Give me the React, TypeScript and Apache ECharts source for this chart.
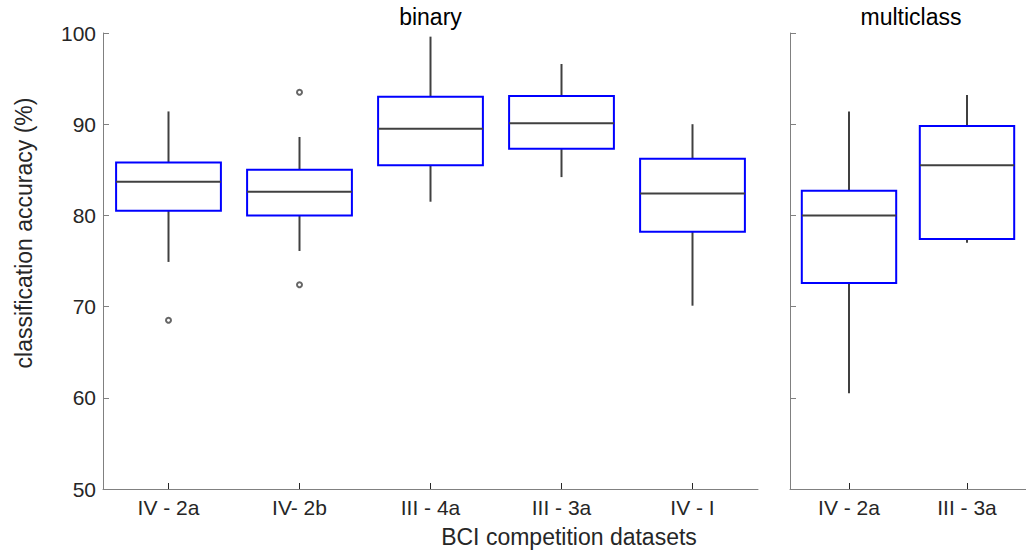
import React, { useEffect, useRef } from "react";
import * as echarts from "echarts";

// Binary datasets
const binaryCategories = ["IV - 2a", "IV- 2b", "III - 4a", "III - 3a", "IV - I"];
const binaryLow = [74.9, 76.1, 81.5, 84.2, 70.1];
const binaryQ1 = [80.5, 80.0, 85.5, 87.3, 78.2];
const binaryMedian = [83.7, 82.6, 89.5, 90.1, 82.4];
const binaryQ3 = [85.8, 85.0, 93.0, 93.1, 86.2];
const binaryHigh = [91.4, 88.6, 99.6, 96.6, 90.0];
const binaryOutliers: [number, number][] = [
  [0, 68.5],
  [1, 93.5],
  [1, 72.4],
];

// Multiclass datasets
const multiCategories = ["IV - 2a", "III - 3a"];
const multiLow = [60.5, 77.0];
const multiQ1 = [72.6, 77.4];
const multiMedian = [80.0, 85.5];
const multiQ3 = [82.7, 89.8];
const multiHigh = [91.4, 93.2];

const yTicks = { min: 50, max: 100, interval: 10 };

const FONT = "Liberation Sans, Arial, Helvetica, sans-serif";
const TEXT = "#262626";
const AXIS = "#808080";
const WHISKER = "#404040";
const BOX = "#0000ff";

function buildData(low: number[], q1: number[], med: number[], q3: number[], high: number[]) {
  return low.map((_, i) => [i, low[i], q1[i], med[i], q3[i], high[i]]);
}

function renderBox(params: any, api: any) {
  const x = api.value(0);
  const low = api.coord([x, api.value(1)]);
  const q1 = api.coord([x, api.value(2)]);
  const med = api.coord([x, api.value(3)]);
  const q3 = api.coord([x, api.value(4)]);
  const high = api.coord([x, api.value(5)]);
  const bw = api.size([1, 0])[0] * 0.8;
  const cx = q1[0];
  const lineStyle = { stroke: WHISKER, lineWidth: 2 };
  return {
    type: "group",
    children: [
      { type: "line", shape: { x1: cx, y1: high[1], x2: cx, y2: q3[1] }, style: lineStyle },
      { type: "line", shape: { x1: cx, y1: q1[1], x2: cx, y2: low[1] }, style: lineStyle },
      {
        type: "rect",
        shape: { x: cx - bw / 2, y: q3[1], width: bw, height: q1[1] - q3[1] },
        style: { fill: "none", stroke: BOX, lineWidth: 2 },
      },
      { type: "line", shape: { x1: cx - bw / 2, y1: med[1], x2: cx + bw / 2, y2: med[1] }, style: lineStyle },
    ],
  };
}

function xAxisCfg(gridIndex: number, data: string[]) {
  return {
    type: "category",
    gridIndex,
    data,
    boundaryGap: true,
    axisLine: { show: true, lineStyle: { color: AXIS, width: 1 } },
    axisTick: { show: true, inside: true, length: 6, alignWithLabel: true, lineStyle: { color: TEXT } },
    axisLabel: { color: TEXT, fontSize: 21, fontFamily: FONT, margin: 8 },
    splitLine: { show: false },
  };
}

function yAxisCfg(gridIndex: number, showLabels: boolean) {
  return {
    type: "value",
    gridIndex,
    min: yTicks.min,
    max: yTicks.max,
    interval: yTicks.interval,
    axisLine: { show: true, lineStyle: { color: AXIS, width: 1 } },
    axisTick: { show: true, inside: true, length: 6, lineStyle: { color: AXIS } },
    axisLabel: { show: showLabels, color: TEXT, fontSize: 21, fontFamily: FONT, margin: 7 },
    splitLine: { show: false },
  };
}

export default function App() {
  const ref = useRef<HTMLDivElement>(null);
  useEffect(() => {
    if (!ref.current) return;
    const chart = echarts.init(ref.current, null, { renderer: "svg" });
    chart.setOption({
      animation: false,
      backgroundColor: "#ffffff",
      textStyle: { fontFamily: FONT },
      grid: [
        { left: 103, right: 268, top: 33, bottom: 63 },
        { left: 790, right: -6, top: 33, bottom: 63 },
      ],
      xAxis: [xAxisCfg(0, binaryCategories), xAxisCfg(1, multiCategories)],
      yAxis: [yAxisCfg(0, true), yAxisCfg(1, false)],
      graphic: [
        {
          type: "text",
          x: 430.5,
          y: 17,
          style: { text: "binary", fill: "#000", font: `23px ${FONT}`, textAlign: "center", textVerticalAlign: "middle" },
        },
        {
          type: "text",
          x: 911,
          y: 17,
          style: { text: "multiclass", fill: "#000", font: `23px ${FONT}`, textAlign: "center", textVerticalAlign: "middle" },
        },
        {
          type: "text",
          x: 569,
          y: 537,
          style: {
            text: "BCI competition datasets",
            fill: TEXT,
            font: `23px ${FONT}`,
            textAlign: "center",
            textVerticalAlign: "middle",
          },
        },
        {
          type: "text",
          x: 24,
          y: 233,
          rotation: Math.PI / 2,
          style: {
            text: "classification accuracy (%)",
            fill: TEXT,
            font: `23px ${FONT}`,
            textAlign: "center",
            textVerticalAlign: "middle",
          },
        },
      ],
      series: [
        {
          type: "custom",
          xAxisIndex: 0,
          yAxisIndex: 0,
          clip: false,
          renderItem: renderBox,
          encode: { x: 0, y: [1, 2, 3, 4, 5] },
          data: buildData(binaryLow, binaryQ1, binaryMedian, binaryQ3, binaryHigh),
        },
        {
          type: "custom",
          xAxisIndex: 1,
          yAxisIndex: 1,
          clip: false,
          renderItem: renderBox,
          encode: { x: 0, y: [1, 2, 3, 4, 5] },
          data: buildData(multiLow, multiQ1, multiMedian, multiQ3, multiHigh),
        },
        {
          type: "scatter",
          xAxisIndex: 0,
          yAxisIndex: 0,
          symbol: "emptyCircle",
          symbolSize: 5,
          itemStyle: { color: WHISKER, borderColor: WHISKER, borderWidth: 1.5 },
          data: binaryOutliers,
        },
      ],
    });
    return () => chart.dispose();
  }, []);
  return (
    <div
      ref={ref}
      style={{ position: "fixed", left: 0, top: 0, width: 1026, height: 552, background: "#fff" }}
    />
  );
}
